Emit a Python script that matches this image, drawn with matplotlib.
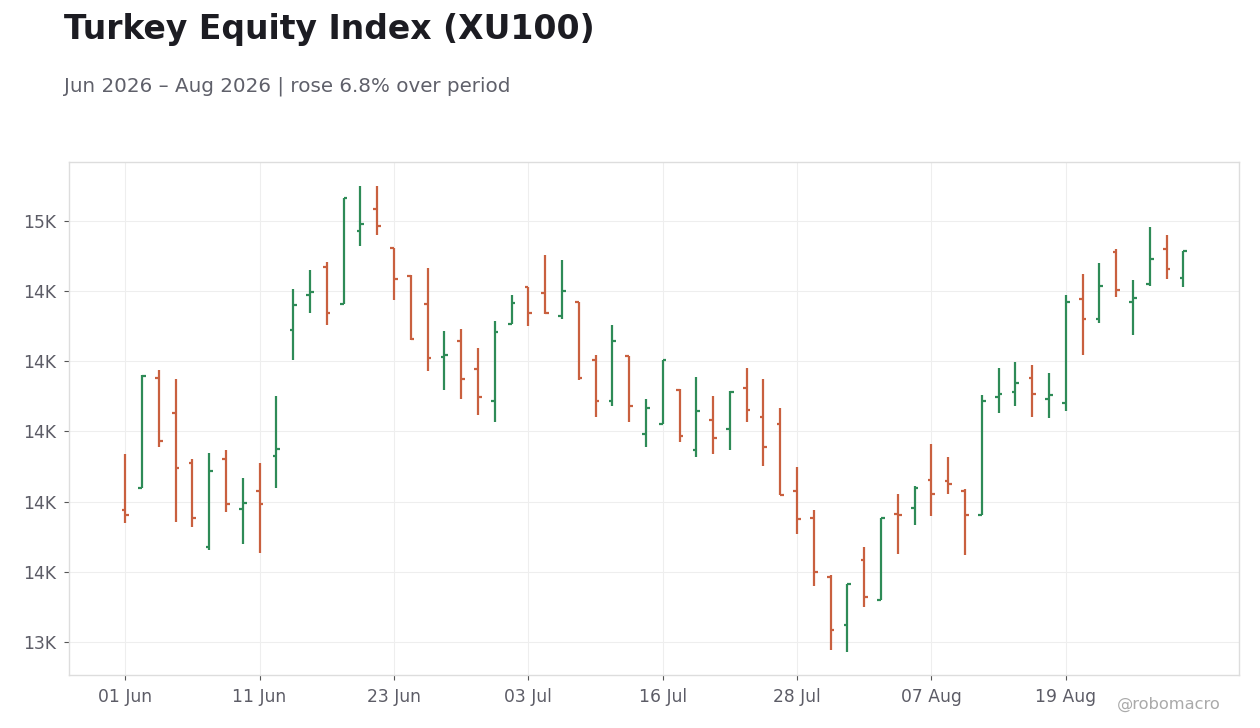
import matplotlib
matplotlib.use("Agg")
import matplotlib.pyplot as plt
from matplotlib.ticker import MultipleLocator, FuncFormatter
import pandas as pd

# trading days, Jun-Aug 2026 (15 Jul is a holiday in Turkey)
dates = pd.bdate_range("2026-06-01", "2026-08-28", freq="C", holidays=["2026-07-15"])

opens = [13721, 13800, 14192, 14064, 13889, 13589, 13900, 13724, 13786, 13914,
         14360, 14485, 14585, 14455, 14713, 14792, 14652, 14553, 14453, 14264,
         14321, 14221, 14110, 14384, 14513, 14492, 14410, 14461, 14253, 14110,
         14267, 13989, 14027, 14146, 13935, 14039, 14010, 14153, 14053, 14028,
         13786, 13693, 13482, 13311, 13543, 13399, 13707, 13728, 13828, 13825,
         13789, 13701, 14124, 14139, 14192, 14117, 14103, 14471, 14399, 14638,
         14460, 14524, 14649, 14545]
highs = [13920, 14201, 14220, 14188, 13902, 13923, 13934, 13834, 13888, 14127,
         14509, 14576, 14605, 14831, 14876, 14873, 14654, 14557, 14584, 14359,
         14366, 14298, 14394, 14487, 14515, 14630, 14612, 14462, 14273, 14380,
         14267, 14116, 14255, 14151, 14195, 14127, 14145, 14227, 14188, 14084,
         13874, 13720, 13487, 13457, 13588, 13690, 13777, 13805, 13956, 13909,
         13794, 14130, 14227, 14248, 14237, 14209, 14487, 14562, 14601, 14651,
         14541, 14730, 14701, 14642]
lows = [13675, 13798, 13943, 13678, 13661, 13579, 13714, 13600, 13568, 13800,
        14253, 14421, 14378, 14453, 14660, 14699, 14467, 14324, 14214, 14149,
        14114, 14060, 14032, 14384, 14374, 14417, 14399, 14182, 14053, 14092,
        14035, 13944, 14027, 13964, 13910, 13918, 13932, 14032, 13875, 13774,
        13636, 13450, 13222, 13215, 13375, 13399, 13564, 13668, 13700, 13778,
        13561, 13701, 14064, 14092, 14053, 14046, 14071, 14271, 14385, 14478,
        14342, 14517, 14542, 14513]
closes = [13703, 14199, 13967, 13871, 13693, 13860, 13743, 13746, 13743, 13939,
          14449, 14496, 14423, 14831, 14738, 14731, 14542, 14331, 14260, 14274,
          14185, 14121, 14353, 14456, 14421, 14423, 14499, 14191, 14107, 14321,
          14092, 14082, 14255, 13982, 14071, 13975, 14139, 14078, 13943, 13774,
          13688, 13500, 13293, 13457, 13411, 13690, 13703, 13800, 13778, 13811,
          13703, 14110, 14132, 14174, 14132, 14128, 14460, 14399, 14517, 14503,
          14474, 14613, 14578, 14642]

UP = "#2e8b57"
DOWN = "#c9603f"

fig = plt.figure(figsize=(12.6, 7.28), dpi=100)
ax = fig.add_axes([0.055, 0.0728, 0.9286, 0.7043])

x = list(range(len(dates)))
colors = [UP if c >= o else DOWN for o, c in zip(opens, closes)]
w = 0.22

# OHLC bars: high-low line, open tick left, close tick right
ax.vlines(x, lows, highs, colors=colors, linewidth=1.6)
ax.hlines(opens, [i - w for i in x], x, colors=colors, linewidth=1.6)
ax.hlines(closes, x, [i + w for i in x], colors=colors, linewidth=1.6)

ax.set_xlim(-3.33, len(dates) - 1 + 3.33)
ax.margins(y=0.05)

ax.set_xticks(x[::8])
ax.set_xticklabels(dates[::8].strftime("%d %b"))
ax.yaxis.set_major_locator(MultipleLocator(250))
ax.yaxis.set_major_formatter(FuncFormatter(lambda v, _: f"{v / 1000:.0f}K"))

ax.grid(True, color="#eeeeee", linewidth=0.8)
ax.set_axisbelow(True)
for s in ax.spines.values():
    s.set_color("#dddddd")
    s.set_linewidth(1)
ax.tick_params(axis="both", length=3.5, pad=6, color="#555555",
               labelsize=12.35, labelcolor="#5c5c66")

fig.text(0.0505, 0.946, "Turkey Equity Index (XU100)", fontsize=23.8,
         fontweight="bold", color="#1c1c22", va="baseline")
fig.text(0.0505, 0.874, "Jun 2026 – Aug 2026 | rose 6.8% over period",
         fontsize=14.3, color="#5f606a", va="baseline")
fig.text(0.969, 0.026, "@robomacro", fontsize=11.7, color="#aaaaaa",
         ha="right", va="baseline")

fig.savefig("out.png", dpi=100)
